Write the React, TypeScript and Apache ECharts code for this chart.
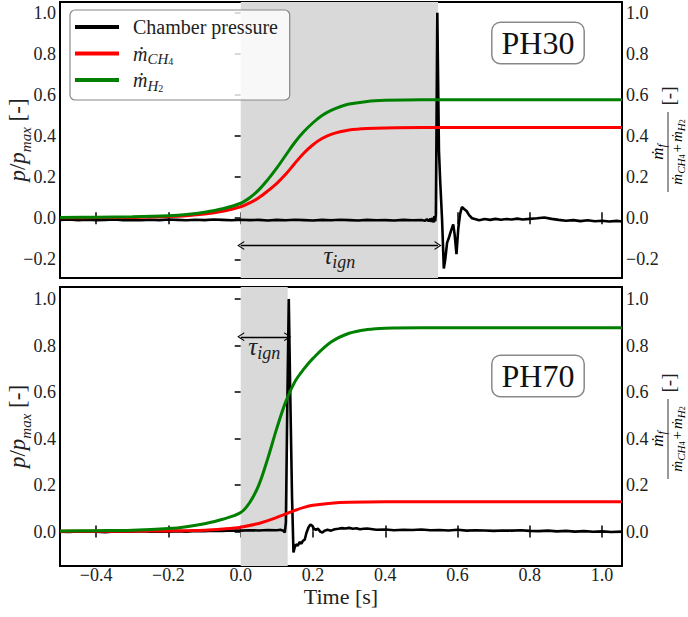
import React, { useEffect, useRef } from 'react';
import * as echarts from 'echarts';

const FONT = "'Liberation Serif', 'DejaVu Serif', serif";

const xTicks = [-0.4, -0.2, 0, 0.2, 0.4, 0.6, 0.8, 1.0];
const yTicksTop = [-0.2, 0, 0.2, 0.4, 0.6, 0.8, 1.0];
const yTicksBottom = [0, 0.2, 0.4, 0.6, 0.8, 1.0];

const seriesNames = ['Chamber pressure', 'ṁCH4', 'ṁH2'];
const caseLabels = ['PH30', 'PH70'];
const ignitionDelay = [0.546, 0.13];
const arrowLevel = [-0.133, 0.838];

// PH30 chamber pressure p/pmax
const pressureTop: number[][] = [
  [-0.5, -0.008], [-0.475, -0.006], [-0.45, -0.009], [-0.425, -0.007], [-0.4, -0.01], [-0.375, -0.008],
  [-0.35, -0.006], [-0.325, -0.009], [-0.3, -0.008], [-0.275, -0.01], [-0.25, -0.007], [-0.225, -0.009],
  [-0.2, -0.006], [-0.175, -0.008], [-0.15, -0.01], [-0.125, -0.007], [-0.1, -0.009], [-0.075, -0.006],
  [-0.05, -0.008], [-0.025, -0.01], [0, -0.007], [0.025, -0.009], [0.05, -0.008], [0.075, -0.011],
  [0.1, -0.008], [0.125, -0.01], [0.15, -0.007], [0.175, -0.009], [0.2, -0.011], [0.225, -0.008],
  [0.25, -0.01], [0.275, -0.007], [0.3, -0.009], [0.325, -0.011], [0.35, -0.008], [0.375, -0.01],
  [0.4, -0.009], [0.425, -0.011], [0.45, -0.008], [0.475, -0.01], [0.5, -0.009], [0.51, -0.012],
  [0.515, -0.005], [0.52, -0.014], [0.525, -0.002], [0.528, -0.018], [0.531, 0.002], [0.534, -0.02],
  [0.536, 0.01], [0.538, -0.015], [0.54, 0.02], [0.542, 0.5], [0.544, 1.0], [0.546, 0.7],
  [0.5485, 0.33], [0.552, 0.18], [0.557, 0.0], [0.562, -0.245], [0.566, -0.2], [0.571, -0.12],
  [0.577, -0.09], [0.582, -0.06], [0.588, -0.03], [0.592, -0.08], [0.597, -0.175], [0.602, -0.05],
  [0.607, 0.02], [0.612, 0.055], [0.618, 0.045], [0.625, 0.035], [0.632, 0.015], [0.64, 0.0],
  [0.65, -0.005], [0.66, -0.01], [0.675, -0.004], [0.69, -0.008], [0.705, -0.003], [0.72, -0.007],
  [0.735, -0.004], [0.75, -0.006], [0.765, -0.002], [0.78, -0.006], [0.8, -0.003], [0.82, 0.0],
  [0.84, 0.004], [0.86, -0.003], [0.88, -0.008], [0.9, -0.012], [0.92, -0.009], [0.94, -0.014],
  [0.96, -0.01], [0.98, -0.015], [1.0, -0.012], [1.02, -0.016], [1.04, -0.013], [1.055, -0.016],
];

// PH70 chamber pressure p/pmax
const pressureBottom: number[][] = [
  [-0.5, 0.0], [-0.475, -0.002], [-0.45, 0.001], [-0.425, -0.001], [-0.4, 0.0], [-0.375, -0.003],
  [-0.35, 0.001], [-0.325, -0.001], [-0.3, 0.0], [-0.275, 0.002], [-0.25, -0.001], [-0.225, 0.001],
  [-0.2, 0.0], [-0.175, 0.002], [-0.15, 0.0], [-0.125, 0.003], [-0.1, 0.002], [-0.075, 0.004],
  [-0.05, 0.003], [-0.025, 0.005], [0, 0.004], [0.025, 0.006], [0.05, 0.005], [0.075, 0.007],
  [0.1, 0.006], [0.11, 0.008], [0.118, 0.004], [0.122, -0.004], [0.125, 0.04], [0.129, 0.55],
  [0.133, 1.0], [0.137, 0.6], [0.142, 0.15], [0.146, -0.09], [0.149, -0.07], [0.153, -0.055],
  [0.158, -0.06], [0.163, -0.045], [0.168, -0.052], [0.172, -0.04], [0.177, -0.035], [0.182, -0.005],
  [0.188, 0.02], [0.193, 0.03], [0.198, 0.025], [0.203, 0.012], [0.208, 0.008], [0.214, 0.012],
  [0.22, 0.0], [0.226, -0.004], [0.232, 0.004], [0.24, 0.008], [0.25, 0.004], [0.26, 0.01],
  [0.27, 0.012], [0.28, 0.015], [0.29, 0.013], [0.3, 0.016], [0.31, 0.012], [0.32, 0.014],
  [0.33, 0.01], [0.34, 0.012], [0.35, 0.013], [0.375, 0.008], [0.4, 0.009], [0.425, 0.006],
  [0.45, 0.008], [0.475, 0.007], [0.5, 0.009], [0.525, 0.006], [0.55, 0.007], [0.575, 0.005],
  [0.6, 0.008], [0.625, 0.004], [0.65, 0.006], [0.675, 0.005], [0.7, 0.003], [0.725, 0.005],
  [0.75, 0.004], [0.775, 0.006], [0.8, 0.003], [0.825, 0.002], [0.85, 0.004], [0.875, 0.001],
  [0.9, 0.003], [0.925, 0.0], [0.95, 0.002], [0.975, -0.001], [1.0, 0.001], [1.025, -0.002], [1.055, 0.0],
];

const ch4Top: number[][] = [
  [-0.5, 0.002], [-0.4, 0.003], [-0.3, 0.004], [-0.2, 0.008], [-0.15, 0.012], [-0.1, 0.02],
  [-0.05, 0.034], [0, 0.056], [0.025, 0.075], [0.05, 0.1], [0.075, 0.133], [0.1, 0.17],
  [0.125, 0.215], [0.15, 0.268], [0.175, 0.318], [0.2, 0.358], [0.225, 0.388], [0.25, 0.408],
  [0.275, 0.421], [0.3, 0.43], [0.35, 0.437], [0.4, 0.44], [0.5, 0.442], [1.055, 0.442],
];
const h2Top: number[][] = [
  [-0.5, 0.004], [-0.4, 0.005], [-0.3, 0.007], [-0.2, 0.012], [-0.15, 0.018], [-0.1, 0.029],
  [-0.05, 0.046], [0, 0.073], [0.025, 0.1], [0.05, 0.138], [0.075, 0.188], [0.1, 0.245],
  [0.125, 0.308], [0.15, 0.37], [0.175, 0.422], [0.2, 0.465], [0.225, 0.5], [0.25, 0.525],
  [0.275, 0.543], [0.3, 0.556], [0.35, 0.569], [0.4, 0.574], [0.5, 0.577], [1.055, 0.577],
];
const ch4Bottom: number[][] = [
  [-0.5, 0.001], [-0.3, 0.002], [-0.2, 0.003], [-0.1, 0.006], [-0.05, 0.011], [0, 0.019],
  [0.05, 0.035], [0.075, 0.047], [0.1, 0.061], [0.125, 0.076], [0.15, 0.091], [0.175, 0.104],
  [0.2, 0.113], [0.25, 0.122], [0.3, 0.126], [0.4, 0.128], [1.055, 0.128],
];
const h2Bottom: number[][] = [
  [-0.5, 0.003], [-0.4, 0.004], [-0.3, 0.006], [-0.2, 0.013], [-0.15, 0.021], [-0.1, 0.034],
  [-0.05, 0.053], [0, 0.082], [0.025, 0.125], [0.05, 0.2], [0.075, 0.315], [0.1, 0.445],
  [0.125, 0.56], [0.15, 0.645], [0.175, 0.7], [0.2, 0.745], [0.25, 0.815], [0.3, 0.853],
  [0.35, 0.869], [0.4, 0.875], [0.5, 0.877], [1.055, 0.877],
];

const fmt = (v: number) => (v < -1e-9 ? '\u2212' : '') + Math.abs(v).toFixed(1);
const TXT = '#222';
const chevron = 'path://M0,10 L5,0 L10,10 L8.6,10 L5,2.6 L1.4,10 Z';

const mathRich = (main: number, sub: number, subsub: number, pad: number) => ({
  m: { fontFamily: FONT, fontStyle: 'italic', fontSize: main, padding: [pad, 0, pad, 0], verticalAlign: 'bottom', color: TXT },
  n: { fontFamily: FONT, fontSize: main, padding: [pad, 0, pad, 0], verticalAlign: 'bottom', color: TXT },
  s: { fontFamily: FONT, fontStyle: 'italic', fontSize: sub, verticalAlign: 'bottom', color: TXT },
  ss: { fontFamily: FONT, fontSize: subsub, verticalAlign: 'bottom', color: TXT },
  p: { fontFamily: FONT, fontSize: main, padding: [pad, 2, pad, 2], verticalAlign: 'bottom', color: TXT },
});

export default function App() {
  const ref = useRef<HTMLDivElement>(null);
  useEffect(() => {
    if (!ref.current) return;
    const chart = echarts.init(ref.current, undefined, { renderer: 'svg' });

    const grids = [
      { left: 60, top: 2, width: 562, height: 276 },
      { left: 60, top: 287, width: 562, height: 279 },
    ];
    const yRanges = [[-0.291, 1.053], [-0.148, 1.052]];
    const yTicks = [yTicksTop, yTicksBottom];

    const xAxes: any[] = [];
    const yAxes: any[] = [];
    const tick = { show: true, inside: true, length: 6, lineStyle: { color: '#000', width: 1.5 } };
    grids.forEach((_, g) => {
      ['bottom', 'top'].forEach((pos) => {
        const showLab = g === 1 && pos === 'bottom';
        xAxes.push({
          type: 'value', gridIndex: g, position: pos, min: -0.5, max: 1.055,
          axisLine: { show: false }, splitLine: { show: false },
          axisTick: { ...tick, customValues: xTicks },
          axisLabel: { show: showLab, customValues: xTicks, formatter: fmt, fontFamily: FONT, fontSize: 18, color: TXT, margin: 0 },
          name: showLab ? 'Time [s]' : '', nameLocation: 'middle', nameGap: 19, nameMoveOverlap: false,
          nameTextStyle: { fontFamily: FONT, fontSize: 22, color: TXT, verticalAlign: 'top' },
        });
      });
      ['left', 'right'].forEach((pos) => {
        yAxes.push({
          type: 'value', gridIndex: g, position: pos, min: yRanges[g][0], max: yRanges[g][1],
          axisLine: { show: false }, splitLine: { show: false },
          axisTick: { ...tick, customValues: yTicks[g] },
          axisLabel: { show: true, customValues: yTicks[g], formatter: fmt, fontFamily: FONT, fontSize: 18, color: TXT, margin: 4 },
          name: pos === 'left' ? '{m|p}{n|/}{m|p}{s|max}{n| [-]}' : '',
          nameLocation: 'middle', nameGap: 27, nameRotate: 90, nameMoveOverlap: false,
          nameTextStyle: { fontFamily: FONT, fontSize: 23, color: TXT, rich: mathRich(23, 15, 11, 4) },
        });
      });
    });

    const pressures = [pressureTop, pressureBottom];
    const ch4s = [ch4Top, ch4Bottom];
    const h2s = [h2Top, h2Bottom];
    const series: any[] = [];
    grids.forEach((_, g) => {
      series.push({
        name: seriesNames[0], type: 'line', xAxisIndex: g * 2, yAxisIndex: g * 2,
        data: pressures[g], showSymbol: false, symbol: 'none', z: 2,
        lineStyle: { color: '#000', width: 2.6 }, itemStyle: { color: '#000' },
        markArea: { silent: true, itemStyle: { color: '#d9d9d9' }, data: [[{ xAxis: 0 }, { xAxis: ignitionDelay[g] }]] },
        markLine: {
          silent: true, symbol: [chevron, chevron], symbolSize: [9, 7],
          lineStyle: { color: '#000', width: 1.3, type: 'solid' },
          label: {
            show: true, position: 'insideMiddleBottom', distance: -6, formatter: '{m|τ}{s|ign}',
            rich: mathRich(25, 18, 12, 3),
          },
          data: [[{ coord: [0, arrowLevel[g]] }, { coord: [ignitionDelay[g], arrowLevel[g]] }]],
        },
      });
      series.push({
        name: seriesNames[1], type: 'line', xAxisIndex: g * 2, yAxisIndex: g * 2 + 1,
        data: ch4s[g], showSymbol: false, symbol: 'none', z: 3, smooth: 0.35,
        lineStyle: { color: '#ff0000', width: 3 }, itemStyle: { color: '#ff0000' },
      });
      series.push({
        name: seriesNames[2], type: 'line', xAxisIndex: g * 2, yAxisIndex: g * 2 + 1,
        data: h2s[g], showSymbol: false, symbol: 'none', z: 3, smooth: 0.35,
        lineStyle: { color: '#008000', width: 3 }, itemStyle: { color: '#008000' },
      });
    });

    const fracLabel = (cx: number, cy: number) => ({
      type: 'group', x: cx, y: cy, rotation: Math.PI / 2,
      children: [
        { type: 'text', x: 0, y: -11, style: { text: '{m|ṁ}{s|f}', rich: mathRich(17, 12, 8, 2), align: 'center', verticalAlign: 'middle' } },
        { type: 'line', shape: { x1: -40, y1: 0, x2: 40, y2: 0 }, style: { stroke: '#333', lineWidth: 1 } },
        { type: 'text', x: 0, y: 9, style: { text: '{m|ṁ}{s|CH}{ss|4}{p|+}{m|ṁ}{s|H}{ss|2}', rich: mathRich(15, 11, 8, 2), align: 'center', verticalAlign: 'middle' } },
        { type: 'text', x: 56, y: 0, style: { text: '[-]', fontFamily: FONT, fontSize: 19, fill: TXT, align: 'center', verticalAlign: 'middle' } },
      ],
    });
    const caseBox = (cx: number, cy: number, label: string) => ({
      type: 'text', x: cx, y: cy, z: 10,
      style: {
        text: label, fontFamily: FONT, fontSize: 32, fill: '#111', align: 'center', verticalAlign: 'middle',
        backgroundColor: '#fff', borderColor: '#888', borderWidth: 1.5, borderRadius: 8, padding: [4, 9, 4, 9],
      },
    });

    chart.setOption({
      animation: false,
      grid: grids.map((g) => ({
        ...g, show: true, borderColor: '#000', borderWidth: 2, backgroundColor: 'transparent',
        containLabel: false, outerBoundsMode: 'none',
      })),
      xAxis: xAxes,
      yAxis: yAxes,
      legend: {
        data: seriesNames, left: 70, top: 10, orient: 'vertical', icon: 'rect',
        backgroundColor: 'rgba(255,255,255,0.8)', borderColor: '#888', borderWidth: 1.2, borderRadius: 5,
        padding: [7, 8, 7, 5], itemWidth: 44, itemHeight: 4, itemGap: 3.5,
        formatter: (name: string) =>
          name === seriesNames[0] ? '{n|Chamber pressure}{s| }' : name === seriesNames[1] ? '{m|ṁ}{s|CH}{ss|4}' : '{m|ṁ}{s|H}{ss|2}',
        textStyle: { fontFamily: FONT, fontSize: 20, color: TXT, padding: [0, 0, 0, 9], rich: mathRich(20, 15, 10, 3) },
      },
      graphic: [fracLabel(668, 152), fracLabel(668, 439), caseBox(538, 43, caseLabels[0]), caseBox(538, 376, caseLabels[1])],
      series,
    });
    return () => chart.dispose();
  }, []);
  return <div ref={ref} style={{ position: 'fixed', left: 0, top: 0, width: 688, height: 617, background: '#fff' }} />;
}
